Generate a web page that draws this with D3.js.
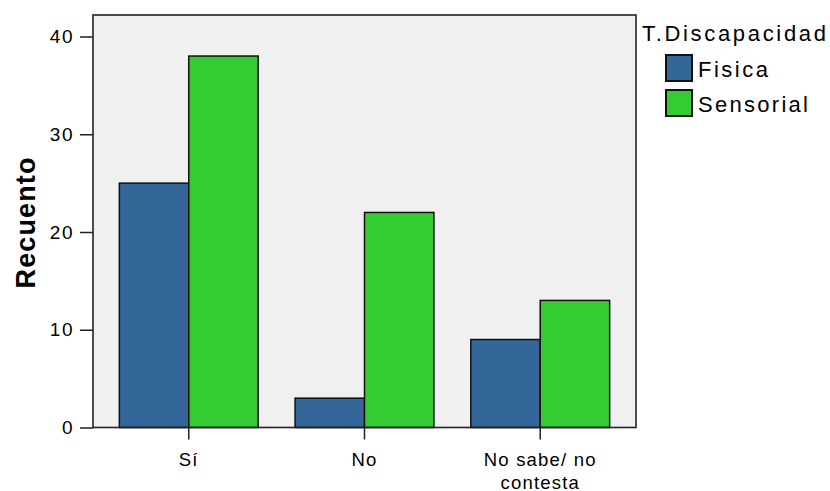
<!DOCTYPE html>
<html><head><meta charset="utf-8">
<script src="https://cdn.jsdelivr.net/npm/d3@7"></script>
<style>body{margin:0;background:#fff;}text{font-family:"Liberation Sans",Arial,sans-serif;fill:#000;}</style>
</head><body>
<svg id="c" width="830" height="491"></svg>
<script>
const categories = ["Sí", "No", "No sabe/ no\ncontesta"];
const seriesNames = ["Fisica", "Sensorial"];
const fisica = [25, 3, 9];
const sensorial = [38, 22, 13];
const yTicks = [0, 10, 20, 30, 40];
const colors = ["#336699", "#33cc33"];

const svg = d3.select("#c");
const m = {left: 93, top: 15, right: 636, bottom: 427.5};
const x = d3.scaleBand().domain(categories).range([m.left, m.right]).paddingInner(0.21).paddingOuter(0.15);
const xs = d3.scaleBand().domain(seriesNames).range([0, x.bandwidth()]);
const y = d3.scaleLinear().domain([0, 42.2]).range([m.bottom, m.top]);

svg.append("rect").attr("x", m.left).attr("y", m.top).attr("width", m.right - m.left).attr("height", m.bottom - m.top)
  .attr("fill", "#f0f0f0");

const data = categories.map((c, i) => ({c, vals: [fisica[i], sensorial[i]]}));
const g = svg.append("g");
data.forEach(d => {
  d.vals.forEach((v, j) => {
    g.append("rect")
      .attr("x", x(d.c) + xs(seriesNames[j]))
      .attr("y", y(v))
      .attr("width", xs.bandwidth())
      .attr("height", y(0) - y(v))
      .attr("fill", colors[j]).attr("stroke", "#111").attr("stroke-width", 1.5);
  });
});

svg.append("rect").attr("x", m.left).attr("y", m.top).attr("width", m.right - m.left).attr("height", m.bottom - m.top)
  .attr("fill", "none").attr("stroke", "#222").attr("stroke-width", 1.6);

const ya = svg.append("g").attr("transform", `translate(${m.left},0)`)
  .call(d3.axisLeft(y).tickValues(yTicks).tickSize(13).tickPadding(6).tickFormat(d3.format("d")));
ya.select(".domain").remove();
ya.selectAll("line").attr("stroke", "#222").attr("stroke-width", 1.5);
ya.selectAll("text").style("font-size", "19px").style("letter-spacing", "1.5px").attr("fill", "#000");

const xa = svg.append("g").attr("transform", `translate(0,${m.bottom})`)
  .call(d3.axisBottom(x).tickSize(12).tickFormat(""));
xa.select(".domain").remove();
xa.selectAll("line").attr("stroke", "#222").attr("stroke-width", 1.5);
xa.selectAll(".tick").each(function(d) {
  const lines = d.split("\n");
  const t = d3.select(this).append("text").attr("text-anchor", "middle").style("font-size", "18.5px")
    .style("letter-spacing", "1.2px");
  lines.forEach((l, i) => t.append("tspan").attr("x", 0).attr("y", 38 + i * 23).text(l));
});

svg.append("text").attr("transform", "translate(35,223) rotate(-90)").attr("text-anchor", "middle")
  .style("font-size", "27px").style("font-weight", "bold").attr("textLength", 131).text("Recuento");

const lg = svg.append("g");
lg.append("text").attr("x", 642).attr("y", 41).style("font-size", "22px").attr("textLength", 184).text("T.Discapacidad");
const itemLen = [70, 110];
seriesNames.forEach((s, i) => {
  lg.append("rect").attr("x", 666).attr("y", 55 + i * 35).attr("width", 26).attr("height", 26)
    .attr("fill", colors[i]).attr("stroke", "#111").attr("stroke-width", 2);
  lg.append("text").attr("x", 698).attr("y", 77 + i * 35).style("font-size", "22px").attr("textLength", itemLen[i]).text(s);
});
</script>
</body></html>
